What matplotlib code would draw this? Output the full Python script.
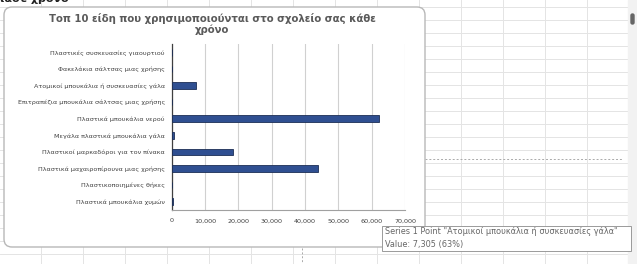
import matplotlib
matplotlib.use("Agg")
import matplotlib.pyplot as plt
from matplotlib.patches import FancyBboxPatch, Rectangle

# data (top -> bottom)
categories = [
    "Πλαστικές συσκευασίες γιαουρτιού",
    "Φακελάκια σάλτσας μιας χρήσης",
    "Ατομικοί μπουκάλια ή συσκευασίες γάλα",
    "Επιτραπέζια μπουκάλια σάλτσας μιας χρήσης",
    "Πλαστικά μπουκάλια νερού",
    "Μεγάλα πλαστικά μπουκάλια γάλα",
    "Πλαστικοί μαρκαδόροι για τον πίνακα",
    "Πλαστικά μαχαιροπίρουνα μιας χρήσης",
    "Πλαστικοποιημένες θήκες",
    "Πλαστικά μπουκάλια χυμών",
]
values = [0, 0, 7305, 0, 62200, 800, 18400, 44000, 0, 400]
xticks = [0, 10000, 20000, 30000, 40000, 50000, 60000, 70000]

title = "Τοπ 10 είδη που χρησιμοποιούνται στο σχολείο σας κάθε\nχρόνο"
tooltip_1 = 'Series 1 Point "Ατομικοί μπουκάλια ή συσκευασίες γάλα"'
tooltip_2 = "Value: 7,305 (63%)"

plt.rcParams['font.family'] = ['DejaVu Sans']

W, H = 637, 264
fig = plt.figure(figsize=(W / 100, H / 100), dpi=100)

# spreadsheet background in pixel coordinates
bg = fig.add_axes([0, 0, 1, 1])
bg.set_xlim(0, W)
bg.set_ylim(H, 0)
bg.axis("off")
for x in range(-2, 628, 42):
    bg.plot([x + 0.5, x + 0.5], [0, H], color="#e4e4e4", lw=0.7, zorder=0)
for y in range(6, H, 13):
    bg.plot([0, 628], [y + 0.5, y + 0.5], color="#e4e4e4", lw=0.7, zorder=0)
bg.add_patch(Rectangle((628, 0), 9, H, color="#f2f2f2", zorder=1))
bg.add_patch(FancyBboxPatch((631, 14), 3, 10, boxstyle="round,pad=0,rounding_size=1.5",
                            color="#666666", zorder=2))
bg.plot([425, 622], [159, 159], color="#aaaaaa", lw=0.7, ls=(0, (2, 2)), zorder=1)
bg.plot([302, 302], [248, H], color="#aaaaaa", lw=0.7, ls=(0, (2, 2)), zorder=1)
bg.text(0, 2.5, "ιάσε χρόνο", fontsize=8, fontweight="bold", color="#222222",
        va="baseline", ha="left", zorder=2)

# chart box
bg.add_patch(FancyBboxPatch((4, 7), 421, 240, boxstyle="round,pad=0,rounding_size=8",
                            facecolor="white", edgecolor="#b8b8b8", lw=1.0, zorder=3))
bg.text(212, 13, title, fontsize=7.3, fontweight="bold", color="#5a5a5a",
        ha="center", va="top", linespacing=1.1, zorder=4)

# tooltip
bg.add_patch(Rectangle((382, 226), 249, 25, facecolor="white", edgecolor="#9a9a9a",
                       lw=0.7, zorder=5))
bg.text(385, 232, tooltip_1, fontsize=5.9, color="#666666", va="center", zorder=6)
bg.text(385, 245, tooltip_2, fontsize=5.9, color="#666666", va="center", zorder=6)

# bar chart
ax = fig.add_axes([171.7 / W, 1 - 210 / H, 233.3 / W, 166 / H], zorder=4)
ax.patch.set_alpha(0)
y = list(range(len(categories)))
ax.barh(y, values, height=0.4, color="#2f4f91", edgecolor="#1c2e55", lw=0.6, zorder=3)
ax.set_ylim(len(categories) - 0.5, -0.5)
ax.set_xlim(0, 70000)
ax.set_yticks(y)
ax.set_yticklabels(categories, fontsize=4.6, color="#404040")
ax.set_xticks(xticks)
ax.set_xticklabels([f"{t:,}" for t in xticks], fontsize=4.6, color="#404040")
ax.tick_params(axis="both", length=0, pad=6)
ax.tick_params(axis="y", pad=5)
ax.grid(axis="x", color="#d0d0d0", lw=0.8, zorder=0)
for s in ["top", "right"]:
    ax.spines[s].set_visible(False)
ax.spines["left"].set_color("#404040")
ax.spines["left"].set_linewidth(0.9)
ax.spines["bottom"].set_color("#a0a0a0")
ax.spines["bottom"].set_linewidth(0.8)

fig.savefig("out.png", dpi=100)
